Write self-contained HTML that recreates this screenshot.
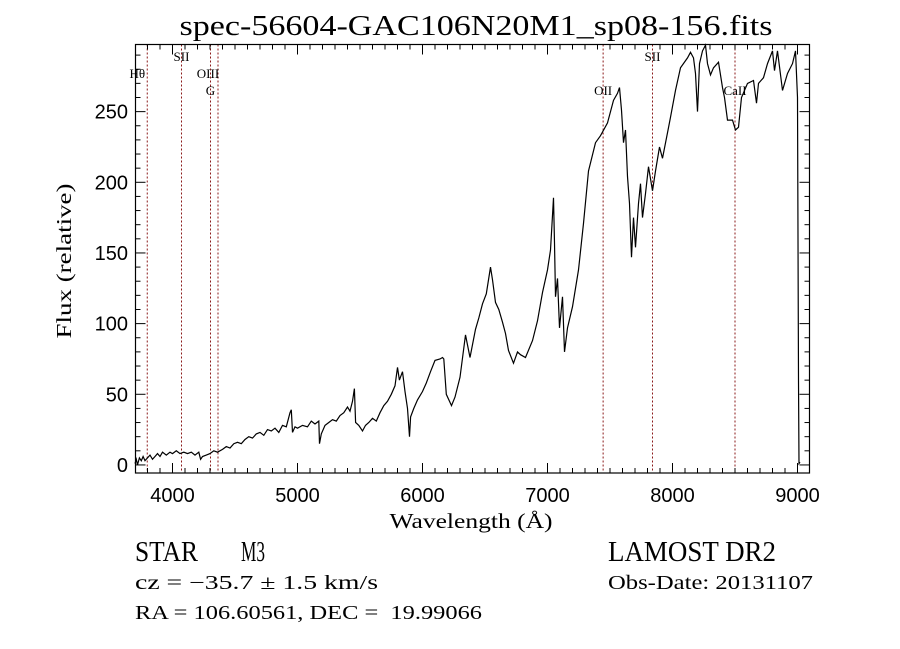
<!DOCTYPE html>
<html><head><meta charset="utf-8"><style>
html,body{margin:0;padding:0;background:#fff;width:900px;height:649px;overflow:hidden}
svg{display:block}
</style></head><body>
<svg id="chart" width="900" height="649" xmlns="http://www.w3.org/2000/svg">
<rect width="900" height="649" fill="#fff"/>
<text x="476" y="35" text-anchor="middle" font-family="Liberation Serif, serif" font-size="29" textLength="593" lengthAdjust="spacingAndGlyphs">spec-56604-GAC106N20M1_sp08-156.fits</text>
<g id="lines"></g>
<g id="ticks"></g>
<path id="spec" fill="none" stroke="#000" stroke-width="1.2"/>
<rect x="135.5" y="44.5" width="674" height="428.5" fill="none" stroke="#000" stroke-width="1.2"/>
<text x="471" y="528" text-anchor="middle" font-family="Liberation Serif, serif" font-size="21" textLength="163" lengthAdjust="spacingAndGlyphs">Wavelength (Å)</text>
<text transform="translate(71,261) rotate(-90)" text-anchor="middle" font-family="Liberation Serif, serif" font-size="21" textLength="155" lengthAdjust="spacingAndGlyphs">Flux (relative)</text>
<text x="135" y="561" font-family="Liberation Serif, serif" font-size="28" textLength="63" lengthAdjust="spacingAndGlyphs">STAR</text>
<text x="241" y="561" font-family="Liberation Serif, serif" font-size="28" textLength="24" lengthAdjust="spacingAndGlyphs">M3</text>
<text x="135" y="589" font-family="Liberation Serif, serif" font-size="20" textLength="243" lengthAdjust="spacingAndGlyphs">cz = −35.7 ± 1.5 km/s</text>
<text x="135" y="619" font-family="Liberation Serif, serif" font-size="20" textLength="347" lengthAdjust="spacingAndGlyphs" xml:space="preserve">RA = 106.60561, DEC =  19.99066</text>
<text x="608" y="561" font-family="Liberation Serif, serif" font-size="28" textLength="168" lengthAdjust="spacingAndGlyphs">LAMOST DR2</text>
<text x="608" y="589" font-family="Liberation Serif, serif" font-size="20" textLength="205" lengthAdjust="spacingAndGlyphs">Obs-Date: 20131107</text>
</svg>
<script>
const wl = [3700,3710,3720,3735,3750,3765,3780,3800,3820,3840,3860,3880,3900,3920,3950,3980,4000,4030,4060,4090,4120,4150,4180,4210,4225,4240,4270,4300,4330,4360,4400,4430,4460,4490,4520,4550,4580,4610,4640,4670,4700,4730,4760,4790,4820,4850,4880,4910,4940,4950,4960,4980,5000,5040,5080,5110,5140,5170,5176,5190,5220,5250,5280,5310,5340,5370,5400,5420,5440,5455,5465,5490,5520,5544,5570,5600,5630,5660,5690,5720,5750,5780,5800,5815,5840,5860,5880,5896,5905,5930,5960,6000,6030,6064,6100,6140,6160,6170,6190,6232,6260,6300,6344,6380,6424,6450,6480,6510,6544,6560,6584,6610,6640,6664,6688,6728,6760,6784,6824,6880,6920,6960,7000,7024,7048,7056,7064,7080,7096,7120,7136,7160,7200,7248,7288,7328,7384,7424,7480,7528,7560,7576,7592,7608,7624,7640,7656,7672,7688,7704,7728,7744,7760,7784,7808,7840,7864,7896,7920,7960,7984,8024,8064,8120,8144,8168,8184,8200,8216,8240,8264,8280,8304,8328,8368,8400,8416,8440,8480,8504,8528,8552,8600,8648,8672,8688,8728,8760,8800,8816,8840,8880,8920,8960,8984,9000,9008,9012,9020];
const flux = [1,4,0,5,3,6,3,5,7,4,6,8,6,9,7,9,8,10,8,9,8,9,7,9,4,6,7,8,10,9,11,13,12,15,16,15,18,20,19,22,23,21,25,24,26,23,28,27,37,39,23,27,26,28,27,31,29,31,15,22,28,30,32,31,35,37,41,38,45,54,30,28,24,28,30,33,31,37,42,45,50,56,69,60,66,52,40,20,34,40,46,52,58,66,74,75,76,75,50,42,48,62,92,76,96,104,114,121,140,131,115,110,101,93,81,72,80,78,76,88,102,122,138,152,189,157,119,132,97,119,80,97,112,138,171,208,228,233,242,258,263,267,251,228,237,204,185,147,175,154,185,199,175,192,211,194,208,225,217,235,246,265,281,288,292,288,277,250,284,293,297,284,276,281,285,267,260,244,244,237,239,260,270,272,256,270,274,284,293,279,293,265,277,284,293,260,60,1,2];
const xTicks = [4000,5000,6000,7000,8000,9000];
const yTicks = [0,50,100,150,200,250];
const lineWl = [3798,4072,4304,4364,7445,7840,8500];
const lineLabels = ["Hθ","SII","G","OIII","OII","SII","CaII"];

const X0=135.5,X1=809.5,Y0=44.5,Y1=473;
const xmin=3704,xmax=9096,ymin=-5.7,ymax=297.5;
const sx=v=>X0+(v-xmin)/(xmax-xmin)*(X1-X0);
const sy=v=>Y1-(v-ymin)/(ymax-ymin)*(Y1-Y0);
const NS='http://www.w3.org/2000/svg';
const svg=document.getElementById('chart');
function mk(tag,attrs,parent){const e=document.createElementNS(NS,tag);for(const k in attrs)e.setAttribute(k,attrs[k]);(parent||svg).appendChild(e);return e;}

// spectrum
let d='';
for(let i=0;i<wl.length;i++){d+=(i?'L':'M')+sx(wl[i]).toFixed(1)+','+Math.max(Y0,Math.min(Y1,sy(flux[i]))).toFixed(1);}
document.getElementById('spec').setAttribute('d',d);

// marker lines
const lg=document.getElementById('lines');
const labelY=[78,61,95,78,95,61,95];
for(let i=0;i<lineWl.length;i++){
  const x=sx(lineWl[i]);
  const l=mk('line',{x1:x,x2:x,y1:Y0,y2:Y1,stroke:'#8b1a1a','stroke-width':1,'stroke-dasharray':'2,2'},lg);
  
  
  let tx=x, anchor='middle';
  if(lineLabels[i]==='Hθ'){tx=x-10;}
  if(lineLabels[i]==='OIII'){tx=x-10;}
  if(lineLabels[i]==='G'){tx=x;}
  if(lineLabels[i]==='OII'){tx=x;}
  const t=mk('text',{x:tx,y:labelY[i],'text-anchor':anchor,'font-family':'Liberation Serif, serif','font-size':13},lg);
  
  
  t.textContent=lineLabels[i];
}

// ticks
const tg=document.getElementById('ticks');
for(let v=3800;v<=9000;v+=100){
  const x=sx(v), major=(v%1000===0), len=major?10:5;
  mk('line',{x1:x,x2:x,y1:Y1,y2:Y1-len,stroke:'#000','stroke-width':1},tg);
  mk('line',{x1:x,x2:x,y1:Y0,y2:Y0+len,stroke:'#000','stroke-width':1},tg);
}
for(let v=0;v<=290;v+=10){
  const y=sy(v), major=(v%50===0), len=major?10:5;
  mk('line',{x1:X0,x2:X0+len,y1:y,y2:y,stroke:'#000','stroke-width':1},tg);
  mk('line',{x1:X1,x2:X1-len,y1:y,y2:y,stroke:'#000','stroke-width':1},tg);
}
for(const v of xTicks){
  const t=mk('text',{x:sx(v),y:502,'text-anchor':'middle','font-family':'Liberation Sans, sans-serif','font-size':20},tg);
  
  
  t.textContent=v;
}
for(const v of yTicks){
  const t=mk('text',{x:128,y:sy(v)+7,'text-anchor':'end','font-family':'Liberation Sans, sans-serif','font-size':20},tg);
  
  
  t.textContent=v;
}
</script>
</body></html>
